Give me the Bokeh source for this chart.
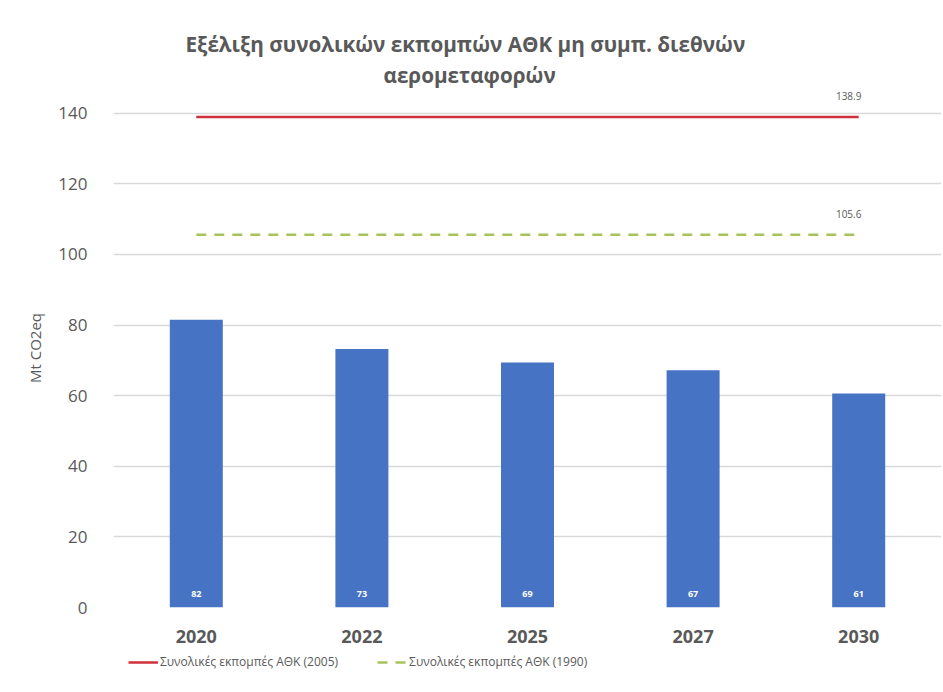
from bokeh.plotting import figure
from bokeh.layouts import column
from bokeh.models import ColumnDataSource, LabelSet, Legend, LegendItem, FixedTicker, Range1d, FactorRange, Title
from bokeh.core.properties import value
from bokeh.embed import file_html
from bokeh.resources import INLINE

years = ["2020", "2022", "2025", "2027", "2030"]
emissions = [81.5, 73.2, 69.4, 67.2, 60.6]
bar_labels = ["82", "73", "69", "67", "61"]
ref_2005 = [138.9, 138.9, 138.9, 138.9, 138.9]
ref_1990 = [105.6, 105.6, 105.6, 105.6, 105.6]
y_ticks = [0, 20, 40, 60, 80, 100, 120, 140]
title_lines = ["Εξέλιξη συνολικών εκπομπών ΑΘΚ μη συμπ. διεθνών", "αερομεταφορών"]
legend_2005 = "Συνολικές εκπομπές ΑΘΚ (2005)"
legend_1990 = "Συνολικές εκπομπές ΑΘΚ (1990)"
y_label = "Mt CO2eq"

FONT = "Open Sans"
GRAY = "#595959"
RED = "#D0303C"
GREEN = "#A8C35A"
DASH = "10 8"

src = ColumnDataSource(dict(year=years, val=emissions, lab=bar_labels,
                            r05=ref_2005, r90=ref_1990,
                            lab_y=[3.7] * len(years)))

p = figure(x_range=FactorRange(*years), y_range=Range1d(0, 147),
           width=943, height=650, output_backend="svg", toolbar_location=None,
           title=None, min_border_left=113, min_border_right=2,
           min_border_top=88, min_border_bottom=43)
p.outline_line_color = None
p.background_fill_color = "white"
p.border_fill_color = "white"

p.vbar(x="year", top="val", width=0.32, source=src,
       fill_color="#4673C3", line_color=None)

p.line(x="year", y="r05", source=src, line_color=RED, line_width=2.5)
p.line(x="year", y="r90", source=src, line_color=GREEN, line_width=2.5, line_dash=DASH)

# bar value labels
p.add_layout(LabelSet(x="year", y="lab_y", text="lab", source=src,
                      text_color="white", text_font=value(FONT), text_font_size="9px",
                      text_font_style="bold", text_align="center", text_baseline="middle"))

# line end labels
end = ColumnDataSource(dict(x=[years[-1], years[-1]],
                            y=[ref_2005[-1], ref_1990[-1]],
                            t=["%.1f" % ref_2005[-1], "%.1f" % ref_1990[-1]]))
p.add_layout(LabelSet(x="x", y="y", text="t", source=end, x_offset=-10, y_offset=21,
                      text_color=GRAY, text_font=value(FONT), text_font_size="10px",
                      text_align="center", text_baseline="middle"))

# title (second line first: later titles stack further out)
p.add_layout(Title(text=title_lines[1], align="left", offset=270, standoff=0,
                   text_font=FONT, text_font_size="20.7px", text_font_style="bold",
                   text_color=GRAY), "above")
p.add_layout(Title(text=title_lines[0], align="left", offset=72, standoff=2,
                   text_font=FONT, text_font_size="20.7px", text_font_style="bold",
                   text_color=GRAY), "above")

# axes
p.yaxis.ticker = FixedTicker(ticks=y_ticks)
p.yaxis.axis_line_color = None
p.yaxis.major_tick_line_color = None
p.yaxis.minor_tick_line_color = None
p.yaxis.major_label_text_font = FONT
p.yaxis.major_label_text_font_size = "17px"
p.yaxis.major_label_text_color = GRAY
p.yaxis.major_label_standoff = 20
p.yaxis.axis_label = y_label
p.yaxis.axis_label_text_font = FONT
p.yaxis.axis_label_text_font_size = "15px"
p.yaxis.axis_label_text_font_style = "normal"
p.yaxis.axis_label_text_color = GRAY
p.yaxis.axis_label_standoff = 10

p.xaxis.axis_line_color = None
p.xaxis.major_tick_line_color = None
p.xaxis.minor_tick_line_color = None
p.xaxis.major_label_text_font = FONT
p.xaxis.major_label_text_font_size = "18px"
p.xaxis.major_label_text_font_style = "bold"
p.xaxis.major_label_text_color = GRAY
p.xaxis.major_label_standoff = 16

p.xgrid.grid_line_color = None
p.ygrid.grid_line_color = "#D9D9D9"
p.ygrid.grid_line_width = 1.5

# legend strip below the chart (proxy lines lie outside its 0..1 range)
lg = figure(width=943, height=42, output_backend="svg", toolbar_location=None,
            x_range=Range1d(0, 1), y_range=Range1d(0, 1),
            min_border=0, min_border_left=113, min_border_right=2,
            min_border_top=0, min_border_bottom=0)
lg.axis.visible = False
lg.grid.visible = False
lg.outline_line_color = None
lg.border_fill_color = "white"
xs = list(range(len(years)))
k05 = lg.line(x=xs, y=ref_2005, line_color=RED, line_width=2.5)
k90 = lg.line(x=xs, y=ref_1990, line_color=GREEN, line_width=2.5, line_dash=DASH)
legend = Legend(items=[LegendItem(label=legend_2005, renderers=[k05]),
                       LegendItem(label=legend_1990, renderers=[k90])],
                orientation="horizontal", location=(15, 22),
                label_text_font=FONT, label_text_font_size="12px",
                label_text_color=GRAY, glyph_width=30, glyph_height=16, label_height=16,
                label_standoff=2, spacing=39, border_line_color=None,
                background_fill_alpha=0, padding=2, margin=0)
lg.add_layout(legend, "center")

layout = column(p, lg, spacing=0)
open("out.html", "w").write(file_html(layout, INLINE))
